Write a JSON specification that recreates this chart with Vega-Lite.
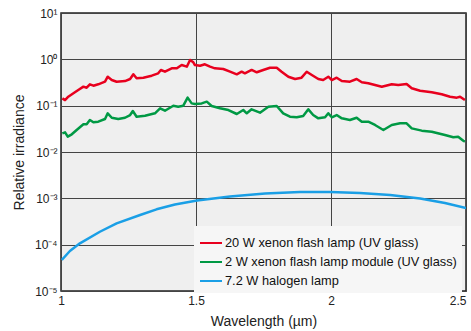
{
  "$schema": "https://vega.github.io/schema/vega-lite/v6.json",
  "width": 405,
  "height": 278,
  "autosize": {"type": "none"},
  "padding": {"left": 61, "top": 13, "right": 5, "bottom": 40},
  "background": "white",
  "datasets": {
    "spectra": [
      {"s": "20 W xenon flash lamp (UV glass)", "x": 1.005, "y": 0.144},
      {"s": "20 W xenon flash lamp (UV glass)", "x": 1.015, "y": 0.132},
      {"s": "20 W xenon flash lamp (UV glass)", "x": 1.027, "y": 0.156},
      {"s": "20 W xenon flash lamp (UV glass)", "x": 1.046, "y": 0.185},
      {"s": "20 W xenon flash lamp (UV glass)", "x": 1.064, "y": 0.218},
      {"s": "20 W xenon flash lamp (UV glass)", "x": 1.083, "y": 0.257},
      {"s": "20 W xenon flash lamp (UV glass)", "x": 1.095, "y": 0.244},
      {"s": "20 W xenon flash lamp (UV glass)", "x": 1.107, "y": 0.289},
      {"s": "20 W xenon flash lamp (UV glass)", "x": 1.12, "y": 0.27},
      {"s": "20 W xenon flash lamp (UV glass)", "x": 1.138, "y": 0.289},
      {"s": "20 W xenon flash lamp (UV glass)", "x": 1.163, "y": 0.329},
      {"s": "20 W xenon flash lamp (UV glass)", "x": 1.173, "y": 0.422},
      {"s": "20 W xenon flash lamp (UV glass)", "x": 1.188, "y": 0.358},
      {"s": "20 W xenon flash lamp (UV glass)", "x": 1.206, "y": 0.329},
      {"s": "20 W xenon flash lamp (UV glass)", "x": 1.237, "y": 0.34},
      {"s": "20 W xenon flash lamp (UV glass)", "x": 1.256, "y": 0.376},
      {"s": "20 W xenon flash lamp (UV glass)", "x": 1.268, "y": 0.475},
      {"s": "20 W xenon flash lamp (UV glass)", "x": 1.28, "y": 0.39},
      {"s": "20 W xenon flash lamp (UV glass)", "x": 1.305, "y": 0.402},
      {"s": "20 W xenon flash lamp (UV glass)", "x": 1.336, "y": 0.444},
      {"s": "20 W xenon flash lamp (UV glass)", "x": 1.36, "y": 0.499},
      {"s": "20 W xenon flash lamp (UV glass)", "x": 1.37, "y": 0.589},
      {"s": "20 W xenon flash lamp (UV glass)", "x": 1.385, "y": 0.541},
      {"s": "20 W xenon flash lamp (UV glass)", "x": 1.41, "y": 0.64},
      {"s": "20 W xenon flash lamp (UV glass)", "x": 1.429, "y": 0.64},
      {"s": "20 W xenon flash lamp (UV glass)", "x": 1.447, "y": 0.755},
      {"s": "20 W xenon flash lamp (UV glass)", "x": 1.466, "y": 0.694},
      {"s": "20 W xenon flash lamp (UV glass)", "x": 1.478, "y": 0.968},
      {"s": "20 W xenon flash lamp (UV glass)", "x": 1.49, "y": 0.863},
      {"s": "20 W xenon flash lamp (UV glass)", "x": 1.496, "y": 0.755},
      {"s": "20 W xenon flash lamp (UV glass)", "x": 1.515, "y": 0.729},
      {"s": "20 W xenon flash lamp (UV glass)", "x": 1.533, "y": 0.782},
      {"s": "20 W xenon flash lamp (UV glass)", "x": 1.552, "y": 0.694},
      {"s": "20 W xenon flash lamp (UV glass)", "x": 1.57, "y": 0.64},
      {"s": "20 W xenon flash lamp (UV glass)", "x": 1.601, "y": 0.618},
      {"s": "20 W xenon flash lamp (UV glass)", "x": 1.626, "y": 0.541},
      {"s": "20 W xenon flash lamp (UV glass)", "x": 1.651, "y": 0.475},
      {"s": "20 W xenon flash lamp (UV glass)", "x": 1.669, "y": 0.541},
      {"s": "20 W xenon flash lamp (UV glass)", "x": 1.681, "y": 0.499},
      {"s": "20 W xenon flash lamp (UV glass)", "x": 1.706, "y": 0.589},
      {"s": "20 W xenon flash lamp (UV glass)", "x": 1.725, "y": 0.525},
      {"s": "20 W xenon flash lamp (UV glass)", "x": 1.749, "y": 0.589},
      {"s": "20 W xenon flash lamp (UV glass)", "x": 1.774, "y": 0.659},
      {"s": "20 W xenon flash lamp (UV glass)", "x": 1.799, "y": 0.659},
      {"s": "20 W xenon flash lamp (UV glass)", "x": 1.817, "y": 0.541},
      {"s": "20 W xenon flash lamp (UV glass)", "x": 1.842, "y": 0.422},
      {"s": "20 W xenon flash lamp (UV glass)", "x": 1.867, "y": 0.376},
      {"s": "20 W xenon flash lamp (UV glass)", "x": 1.891, "y": 0.402},
      {"s": "20 W xenon flash lamp (UV glass)", "x": 1.91, "y": 0.541},
      {"s": "20 W xenon flash lamp (UV glass)", "x": 1.929, "y": 0.459},
      {"s": "20 W xenon flash lamp (UV glass)", "x": 1.953, "y": 0.376},
      {"s": "20 W xenon flash lamp (UV glass)", "x": 1.971, "y": 0.358},
      {"s": "20 W xenon flash lamp (UV glass)", "x": 1.99, "y": 0.422},
      {"s": "20 W xenon flash lamp (UV glass)", "x": 2.003, "y": 0.358},
      {"s": "20 W xenon flash lamp (UV glass)", "x": 2.021, "y": 0.402},
      {"s": "20 W xenon flash lamp (UV glass)", "x": 2.04, "y": 0.34},
      {"s": "20 W xenon flash lamp (UV glass)", "x": 2.07, "y": 0.329},
      {"s": "20 W xenon flash lamp (UV glass)", "x": 2.095, "y": 0.376},
      {"s": "20 W xenon flash lamp (UV glass)", "x": 2.114, "y": 0.319},
      {"s": "20 W xenon flash lamp (UV glass)", "x": 2.138, "y": 0.304},
      {"s": "20 W xenon flash lamp (UV glass)", "x": 2.163, "y": 0.279},
      {"s": "20 W xenon flash lamp (UV glass)", "x": 2.188, "y": 0.257},
      {"s": "20 W xenon flash lamp (UV glass)", "x": 2.225, "y": 0.289},
      {"s": "20 W xenon flash lamp (UV glass)", "x": 2.249, "y": 0.279},
      {"s": "20 W xenon flash lamp (UV glass)", "x": 2.28, "y": 0.294},
      {"s": "20 W xenon flash lamp (UV glass)", "x": 2.299, "y": 0.237},
      {"s": "20 W xenon flash lamp (UV glass)", "x": 2.33, "y": 0.21},
      {"s": "20 W xenon flash lamp (UV glass)", "x": 2.373, "y": 0.194},
      {"s": "20 W xenon flash lamp (UV glass)", "x": 2.41, "y": 0.176},
      {"s": "20 W xenon flash lamp (UV glass)", "x": 2.441, "y": 0.156},
      {"s": "20 W xenon flash lamp (UV glass)", "x": 2.466, "y": 0.149},
      {"s": "20 W xenon flash lamp (UV glass)", "x": 2.478, "y": 0.156},
      {"s": "20 W xenon flash lamp (UV glass)", "x": 2.496, "y": 0.132},

      {"s": "2 W xenon flash lamp module (UV glass)", "x": 1.005, "y": 0.0253},
      {"s": "2 W xenon flash lamp module (UV glass)", "x": 1.015, "y": 0.0266},
      {"s": "2 W xenon flash lamp module (UV glass)", "x": 1.025, "y": 0.0214},
      {"s": "2 W xenon flash lamp module (UV glass)", "x": 1.04, "y": 0.0241},
      {"s": "2 W xenon flash lamp module (UV glass)", "x": 1.058, "y": 0.0299},
      {"s": "2 W xenon flash lamp module (UV glass)", "x": 1.083, "y": 0.0396},
      {"s": "2 W xenon flash lamp module (UV glass)", "x": 1.095, "y": 0.0396},
      {"s": "2 W xenon flash lamp module (UV glass)", "x": 1.107, "y": 0.049},
      {"s": "2 W xenon flash lamp module (UV glass)", "x": 1.12, "y": 0.0437},
      {"s": "2 W xenon flash lamp module (UV glass)", "x": 1.138, "y": 0.0451},
      {"s": "2 W xenon flash lamp module (UV glass)", "x": 1.163, "y": 0.0515},
      {"s": "2 W xenon flash lamp module (UV glass)", "x": 1.173, "y": 0.0684},
      {"s": "2 W xenon flash lamp module (UV glass)", "x": 1.188, "y": 0.0549},
      {"s": "2 W xenon flash lamp module (UV glass)", "x": 1.212, "y": 0.0515},
      {"s": "2 W xenon flash lamp module (UV glass)", "x": 1.237, "y": 0.0549},
      {"s": "2 W xenon flash lamp module (UV glass)", "x": 1.256, "y": 0.0628},
      {"s": "2 W xenon flash lamp module (UV glass)", "x": 1.266, "y": 0.0767},
      {"s": "2 W xenon flash lamp module (UV glass)", "x": 1.28, "y": 0.0578},
      {"s": "2 W xenon flash lamp module (UV glass)", "x": 1.311, "y": 0.0607},
      {"s": "2 W xenon flash lamp module (UV glass)", "x": 1.348, "y": 0.0684},
      {"s": "2 W xenon flash lamp module (UV glass)", "x": 1.367, "y": 0.0877},
      {"s": "2 W xenon flash lamp module (UV glass)", "x": 1.385, "y": 0.0778},
      {"s": "2 W xenon flash lamp module (UV glass)", "x": 1.416, "y": 0.0998},
      {"s": "2 W xenon flash lamp module (UV glass)", "x": 1.434, "y": 0.0951},
      {"s": "2 W xenon flash lamp module (UV glass)", "x": 1.453, "y": 0.0998},
      {"s": "2 W xenon flash lamp module (UV glass)", "x": 1.469, "y": 0.149},
      {"s": "2 W xenon flash lamp module (UV glass)", "x": 1.484, "y": 0.112},
      {"s": "2 W xenon flash lamp module (UV glass)", "x": 1.496, "y": 0.109},
      {"s": "2 W xenon flash lamp module (UV glass)", "x": 1.521, "y": 0.112},
      {"s": "2 W xenon flash lamp module (UV glass)", "x": 1.54, "y": 0.122},
      {"s": "2 W xenon flash lamp module (UV glass)", "x": 1.558, "y": 0.0984},
      {"s": "2 W xenon flash lamp module (UV glass)", "x": 1.589, "y": 0.0877},
      {"s": "2 W xenon flash lamp module (UV glass)", "x": 1.62, "y": 0.0806},
      {"s": "2 W xenon flash lamp module (UV glass)", "x": 1.651, "y": 0.0661},
      {"s": "2 W xenon flash lamp module (UV glass)", "x": 1.675, "y": 0.0806},
      {"s": "2 W xenon flash lamp module (UV glass)", "x": 1.688, "y": 0.0684},
      {"s": "2 W xenon flash lamp module (UV glass)", "x": 1.706, "y": 0.0834},
      {"s": "2 W xenon flash lamp module (UV glass)", "x": 1.737, "y": 0.0705},
      {"s": "2 W xenon flash lamp module (UV glass)", "x": 1.768, "y": 0.0951},
      {"s": "2 W xenon flash lamp module (UV glass)", "x": 1.799, "y": 0.0984},
      {"s": "2 W xenon flash lamp module (UV glass)", "x": 1.823, "y": 0.0684},
      {"s": "2 W xenon flash lamp module (UV glass)", "x": 1.848, "y": 0.0578},
      {"s": "2 W xenon flash lamp module (UV glass)", "x": 1.873, "y": 0.0561},
      {"s": "2 W xenon flash lamp module (UV glass)", "x": 1.897, "y": 0.0598},
      {"s": "2 W xenon flash lamp module (UV glass)", "x": 1.916, "y": 0.0834},
      {"s": "2 W xenon flash lamp module (UV glass)", "x": 1.934, "y": 0.0628},
      {"s": "2 W xenon flash lamp module (UV glass)", "x": 1.953, "y": 0.0533},
      {"s": "2 W xenon flash lamp module (UV glass)", "x": 1.978, "y": 0.0561},
      {"s": "2 W xenon flash lamp module (UV glass)", "x": 1.99, "y": 0.0684},
      {"s": "2 W xenon flash lamp module (UV glass)", "x": 2.003, "y": 0.0561},
      {"s": "2 W xenon flash lamp module (UV glass)", "x": 2.021, "y": 0.0628},
      {"s": "2 W xenon flash lamp module (UV glass)", "x": 2.04, "y": 0.0533},
      {"s": "2 W xenon flash lamp module (UV glass)", "x": 2.07, "y": 0.049},
      {"s": "2 W xenon flash lamp module (UV glass)", "x": 2.095, "y": 0.0549},
      {"s": "2 W xenon flash lamp module (UV glass)", "x": 2.114, "y": 0.0451},
      {"s": "2 W xenon flash lamp module (UV glass)", "x": 2.138, "y": 0.0451},
      {"s": "2 W xenon flash lamp module (UV glass)", "x": 2.163, "y": 0.0383},
      {"s": "2 W xenon flash lamp module (UV glass)", "x": 2.194, "y": 0.0299},
      {"s": "2 W xenon flash lamp module (UV glass)", "x": 2.225, "y": 0.0383},
      {"s": "2 W xenon flash lamp module (UV glass)", "x": 2.256, "y": 0.0416},
      {"s": "2 W xenon flash lamp module (UV glass)", "x": 2.28, "y": 0.0416},
      {"s": "2 W xenon flash lamp module (UV glass)", "x": 2.299, "y": 0.0324},
      {"s": "2 W xenon flash lamp module (UV glass)", "x": 2.336, "y": 0.0289},
      {"s": "2 W xenon flash lamp module (UV glass)", "x": 2.373, "y": 0.0274},
      {"s": "2 W xenon flash lamp module (UV glass)", "x": 2.422, "y": 0.0233},
      {"s": "2 W xenon flash lamp module (UV glass)", "x": 2.453, "y": 0.0208},
      {"s": "2 W xenon flash lamp module (UV glass)", "x": 2.471, "y": 0.0214},
      {"s": "2 W xenon flash lamp module (UV glass)", "x": 2.49, "y": 0.0175},
      {"s": "2 W xenon flash lamp module (UV glass)", "x": 2.496, "y": 0.0167},

      {"s": "7.2 W halogen lamp", "x": 1.003, "y": 0.0000467},
      {"s": "7.2 W halogen lamp", "x": 1.033, "y": 0.000073},
      {"s": "7.2 W halogen lamp", "x": 1.07, "y": 0.000107},
      {"s": "7.2 W halogen lamp", "x": 1.144, "y": 0.00019},
      {"s": "7.2 W halogen lamp", "x": 1.206, "y": 0.000289},
      {"s": "7.2 W halogen lamp", "x": 1.293, "y": 0.000437},
      {"s": "7.2 W halogen lamp", "x": 1.354, "y": 0.000579},
      {"s": "7.2 W halogen lamp", "x": 1.422, "y": 0.000736},
      {"s": "7.2 W halogen lamp", "x": 1.504, "y": 0.000898},
      {"s": "7.2 W halogen lamp", "x": 1.626, "y": 0.00109},
      {"s": "7.2 W halogen lamp", "x": 1.756, "y": 0.00127},
      {"s": "7.2 W halogen lamp", "x": 1.885, "y": 0.00137},
      {"s": "7.2 W halogen lamp", "x": 1.996, "y": 0.00137},
      {"s": "7.2 W halogen lamp", "x": 2.107, "y": 0.0013},
      {"s": "7.2 W halogen lamp", "x": 2.219, "y": 0.00118},
      {"s": "7.2 W halogen lamp", "x": 2.33, "y": 0.00099},
      {"s": "7.2 W halogen lamp", "x": 2.422, "y": 0.00079},
      {"s": "7.2 W halogen lamp", "x": 2.5, "y": 0.00062}
    ]
  },
  "data": {"name": "spectra"},
  "mark": {"type": "line", "strokeWidth": 2.5, "strokeJoin": "round", "clip": true},
  "encoding": {
    "x": {
      "field": "x",
      "type": "quantitative",
      "title": "Wavelength (µm)",
      "scale": {"domain": [1, 2.5], "nice": false, "zero": false},
      "axis": {
        "values": [1, 1.5, 2, 2.5],
        "labelExpr": "datum.value == 1 ? '1' : datum.value == 2 ? '2' : format(datum.value, '.1f')",
        "labelFlush": false,
        "labelAlign": {"condition": {"test": "datum.value == 2.5", "value": "right"}, "value": "center"},
        "labelPadding": 4,
        "titlePadding": 8
      }
    },
    "y": {
      "field": "y",
      "type": "quantitative",
      "title": "Relative irradiance",
      "scale": {"type": "log", "domain": [0.00001, 10], "nice": false},
      "axis": {
        "values": [0.00001, 0.0001, 0.001, 0.01, 0.1, 1, 10],
        "labelExpr": "'10' + ['⁻⁵','⁻⁴','⁻³','⁻²','⁻¹','⁰','¹'][round(log(datum.value) / LN10) + 5]",
        "labelFlush": false,
        "labelPadding": 4,
        "titlePadding": 8
      }
    },
    "color": {
      "field": "s",
      "type": "nominal",
      "sort": null,
      "scale": {
        "domain": ["20 W xenon flash lamp (UV glass)", "2 W xenon flash lamp module (UV glass)", "7.2 W halogen lamp"],
        "range": ["#e8001e", "#009944", "#1a9fe6"]
      },
      "legend": {
        "title": null,
        "orient": "none",
        "legendX": 133,
        "legendY": 213,
        "fillColor": "#f6f6f6",
        "padding": 5,
        "symbolType": "stroke",
        "symbolSize": 484,
        "symbolStrokeWidth": 2,
        "labelOffset": 2,
        "labelLimit": 400,
        "labelFontSize": 12.8,
        "labelFont": "Liberation Sans",
        "labelColor": "#111",
        "rowPadding": -3
      }
    }
  },
  "config": {
    "view": {"fill": "#efefef", "stroke": "#222", "strokeWidth": 1.5},
    "axis": {
      "grid": true,
      "gridColor": "#444",
      "gridWidth": 1,
      "gridOpacity": 1,
      "domain": false,
      "ticks": false,
      "labelFont": "Liberation Sans",
      "labelFontSize": 12,
      "labelColor": "#222",
      "titleFont": "Liberation Sans",
      "titleFontSize": 14,
      "titleFontWeight": "normal",
      "titleColor": "#222"
    }
  }
}
